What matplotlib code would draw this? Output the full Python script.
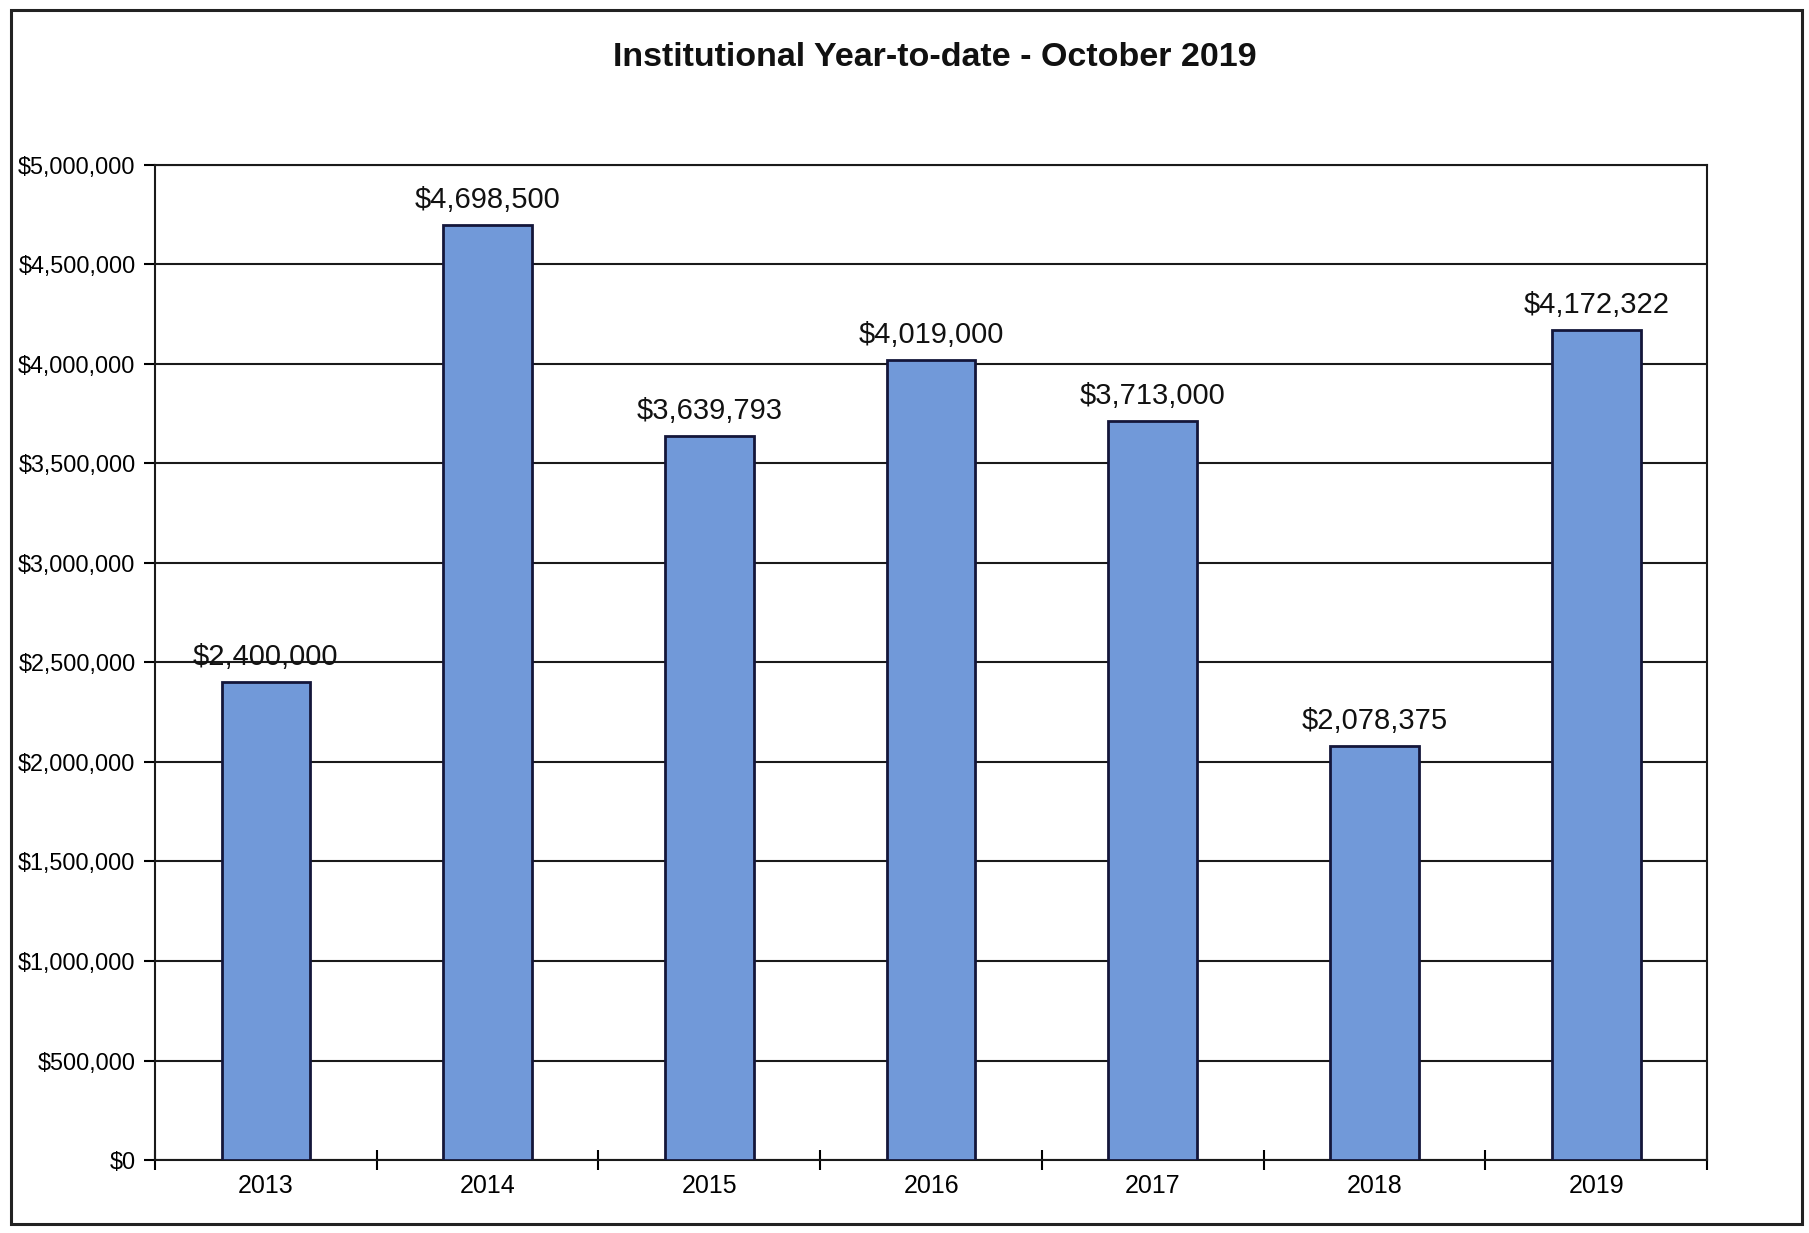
import matplotlib.pyplot as plt
from matplotlib.patches import Rectangle
from matplotlib.ticker import FuncFormatter, MultipleLocator
import numpy as np

plt.rcParams['font.family'] = ['Liberation Sans', 'DejaVu Sans']

years = ['2013', '2014', '2015', '2016', '2017', '2018', '2019']
amounts = [2400000, 4698500, 3639793, 4019000, 3713000, 2078375, 4172322]

fig = plt.figure(figsize=(18.09, 12.33), dpi=100)
ax = fig.add_axes([0.0857, 0.0592, 0.858, 0.807])

# outer border of the chart
fig.patches.append(Rectangle((0.006, 0.007), 0.99, 0.985, transform=fig.transFigure,
                             fill=False, edgecolor='#222222', linewidth=2.2))

x = np.arange(len(years))
bars = ax.bar(x, amounts, width=0.4, color='#7199d9', edgecolor='#14163a', linewidth=2, zorder=3)

for rect, val in zip(bars, amounts):
    ax.annotate(f'${val:,.0f}', (rect.get_x() + rect.get_width() / 2, rect.get_height()),
                xytext=(0, 8), textcoords='offset points', ha='center', va='bottom',
                fontsize=21, color='#111111')

ax.set_xlim(-0.5, len(years) - 0.5)
ax.set_ylim(0, 5000000)
ax.yaxis.set_major_locator(MultipleLocator(500000))
ax.yaxis.set_major_formatter(FuncFormatter(lambda v, p: f'${v:,.0f}'))
ax.grid(axis='y', color='#1a1a1a', linewidth=1.5, zorder=0)

# category ticks sit between the bars, labels centred under them
ax.set_xticks(np.arange(-0.5, len(years)), minor=False)
ax.set_xticklabels([])
ax.set_xticks(x, minor=True)
ax.set_xticklabels(years, minor=True)
ax.tick_params(axis='x', which='major', direction='inout', length=14, width=1.5)
ax.tick_params(axis='x', which='minor', length=0, pad=10, labelsize=18)
ax.tick_params(axis='y', direction='out', length=8, width=1.5, labelsize=16.8, pad=6)

for s in ax.spines.values():
    s.set_linewidth(1.5)
    s.set_color('#1a1a1a')

fig.text(0.517, 0.953, 'Institutional Year-to-date - October 2019', ha='center', va='center',
         fontsize=24.5, fontweight='bold', color='#111111')

fig.savefig('out.png', dpi=100)
plt.close()
